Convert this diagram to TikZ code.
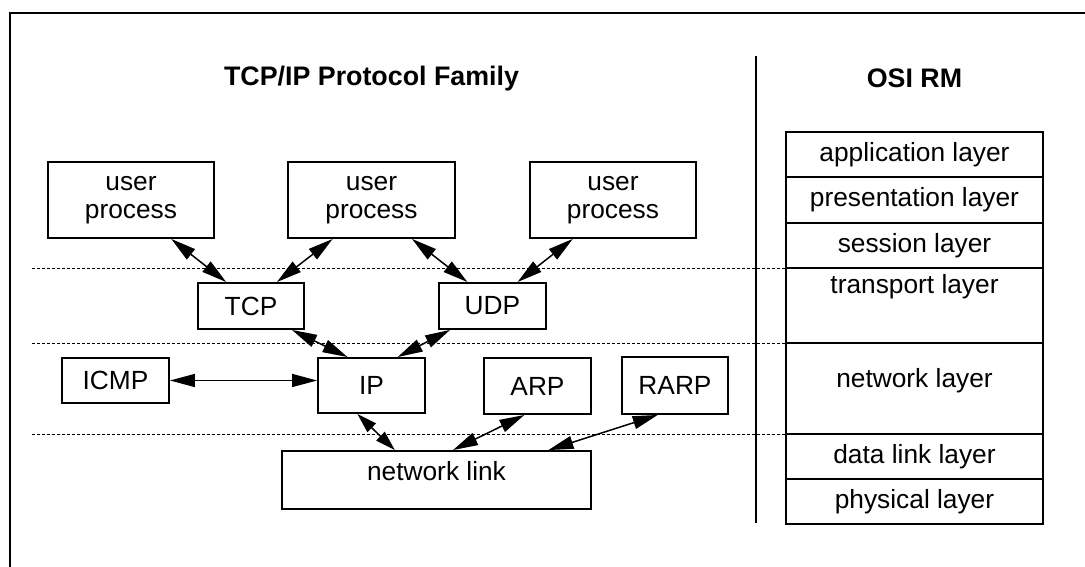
\documentclass[tikz,border=0pt]{standalone}
\usepackage{fontspec}
\setmainfont{Liberation Sans}
\usetikzlibrary{arrows.meta,calc}
\begin{document}
\begin{tikzpicture}[x=1pt,y=-1pt,
  box/.style={draw, line width=1.9pt, inner sep=0pt, align=center,
    font=\fontsize{26.3}{28.5}\selectfont},
  lbl/.style={inner sep=0pt, font=\fontsize{26.3}{28.5}\selectfont},
  ttl/.style={inner sep=0pt, font=\bfseries\fontsize{26.8}{30}\selectfont},
  link/.style={line width=1.5pt,
    {Triangle[length=25pt,width=13pt]}-{Triangle[length=25pt,width=13pt]}},
  shortlink/.style={line width=1.5pt,
    {Triangle[length=20pt,width=12pt]}-{Triangle[length=20pt,width=12pt]}},
  level/.style={line width=0.9pt, dash pattern=on 3pt off 2pt},
  frame/.style={line width=2.6pt},
  cell/.style={draw, line width=1.9pt, inner sep=0pt, minimum width=257pt,
    font=\fontsize{26.3}{28.5}\selectfont}]

\useasboundingbox (0,0) rectangle (1085,567);

% outer frame and column separator
\draw[frame] (1090,13) -- (10,13) -- (10,572);
\draw[frame] (756,56) -- (756,523);

% headings
\node[ttl] (famtitle) at (371.5,79) {TCP/IP Protocol Family};
\node[ttl] (osititle) at (914.5,78) {OSI RM};

% layer boundaries
\draw[level] (32,268) -- (786,268);
\draw[level] (32,343) -- (786,343);
\draw[level] (32,434) -- (786,434);

% protocol boxes
\node[box, minimum width=166pt, minimum height=76pt] (up1) at (131,200) {user\\process};
\node[box, minimum width=167pt, minimum height=76pt] (up2) at (371.5,200) {user\\process};
\node[box, minimum width=166pt, minimum height=76pt] (up3) at (613,200) {user\\process};
\node[box, minimum width=106pt, minimum height=46pt] (tcp) at (251,306) {TCP};
\node[box, minimum width=107pt, minimum height=46pt] (udp) at (492.5,306) {UDP};
\node[box, minimum width=107pt, minimum height=45pt] (icmp) at (115.5,380.5) {ICMP};
\node[box, minimum width=107pt, minimum height=55pt] (ip) at (371.5,385.5) {IP};
\node[box, minimum width=107pt, minimum height=56pt] (arp) at (537.5,386) {ARP};
\node[box, minimum width=106pt, minimum height=57pt] (rarp) at (675,385.5) {RARP};
\node[box, minimum width=309pt, minimum height=58pt] (net) at (436.5,480) {};
\node[lbl] (nettxt) at (436.5,471) {network link};

% connectors
\draw[link] ($(up1.south west)!0.74!(up1.south east)$) -- ($(tcp.north west)!0.27!(tcp.north east)$);
\draw[link] ($(up2.south west)!0.27!(up2.south east)$) -- ($(tcp.north west)!0.74!(tcp.north east)$);
\draw[link] ($(up2.south west)!0.74!(up2.south east)$) -- ($(udp.north west)!0.27!(udp.north east)$);
\draw[link] ($(up3.south west)!0.26!(up3.south east)$) -- ($(udp.north west)!0.73!(udp.north east)$);
\draw[link] ($(tcp.south west)!0.88!(tcp.south east)$) -- ($(ip.north west)!0.28!(ip.north east)$);
\draw[link] ($(udp.south west)!0.11!(udp.south east)$) -- ($(ip.north west)!0.74!(ip.north east)$);
\draw[link] (icmp.east) -- (icmp.east -| ip.west);
\draw[shortlink] ($(ip.south west)!0.37!(ip.south east)$) -- ($(net.north west)!0.366!(net.north east)$);
\draw[link] ($(arp.south west)!0.38!(arp.south east)$) -- ($(net.north west)!0.553!(net.north east)$);
\draw[link] ($(rarp.south west)!0.34!(rarp.south east)$) -- ($(net.north west)!0.86!(net.north east)$);

% OSI reference model column
\node[cell, minimum height=45pt] (app) at (914.5,154.5) {application layer};
\node[cell, minimum height=46pt] (pres) at (914.5,200) {presentation layer};
\node[cell, minimum height=45pt] (sess) at (914.5,245.5) {session layer};
\node[cell, minimum height=75pt] (trans) at (914.5,305.5) {};
\node[lbl] (transtxt) at (914.5,287) {transport layer};
\node[cell, minimum height=91pt] (netw) at (914.5,388.5) {};
\node[lbl] (netwtxt) at (914.5,381) {network layer};
\node[cell, minimum height=45pt] (dlink) at (914.5,456.5) {data link layer};
\node[cell, minimum height=45pt] (phys) at (914.5,501.5) {physical layer};
\end{tikzpicture}
\end{document}
